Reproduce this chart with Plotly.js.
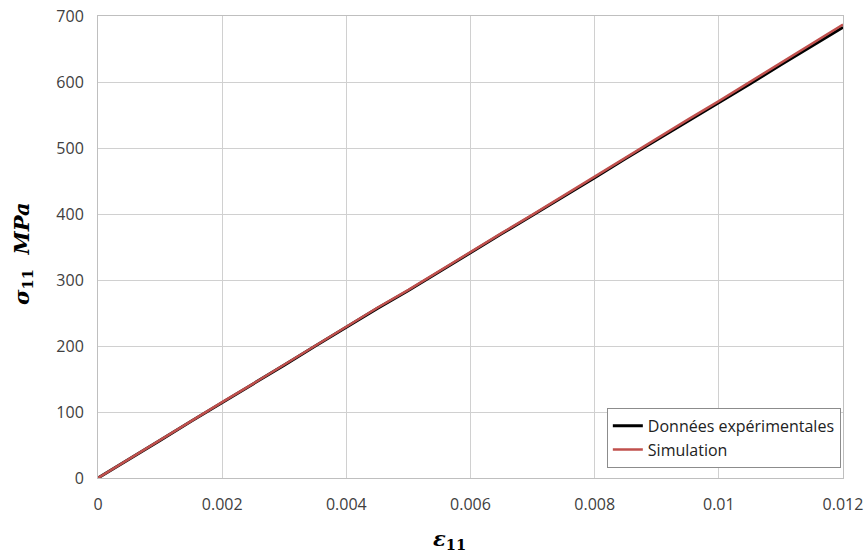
<!DOCTYPE html>
<html>
<head>
<meta charset="utf-8">
<script src="https://cdn.plot.ly/plotly-3.0.1.min.js"></script>
<style>html,body{margin:0;padding:0;background:#fff;}#chart{width:866px;height:555px;}</style>
</head>
<body>
<div id="chart"></div>
<script>
const strain = [0,0.0005,0.001,0.0015,0.002,0.0025,0.003,0.0035,0.004,0.0045,0.005,0.0055,0.006,0.0065,0.007,0.0075,0.008,0.0085,0.009,0.0095,0.01,0.0105,0.011,0.0115,0.012];
const stressExp = [0,28,57,86,114,143,171,200,229,257,284,313,342,370,398,426,455,484,512,540,569,597,626,655,683];
const stressSim = [0,29,58,86,115,143,172,201,230,258,285,314,343,371,399,428,457,486,514,543,571,600,629,658,687];
const xTicks = [0,0.002,0.004,0.006,0.008,0.01,0.012];
const xTickText = ['0','0.002','0.004','0.006','0.008','0.01','0.012'];
const yTicks = [0,100,200,300,400,500,600,700];

const traces = [
  {x: strain, y: stressExp, type:'scatter', mode:'lines', name:'Données expérimentales',
   line:{color:'#000000', width:3}},
  {x: strain, y: stressSim, type:'scatter', mode:'lines', name:'Simulation',
   line:{color:'#C0504D', width:2.5}}
];

const titleFont = {family:'DejaVu Serif, serif', size:21, color:'#000'};
const layout = {
  width:866, height:555,
  margin:{l:98, r:23, t:16, b:77},
  paper_bgcolor:'#fff', plot_bgcolor:'#fff',
  font:{family:'Open Sans, sans-serif', size:16, color:'#404040'},
  showlegend:true,
  legend:{x:0.683, y:0.152, xanchor:'left', yanchor:'top', bgcolor:'#fff',
    bordercolor:'#8c8c8c', borderwidth:1, font:{size:16, color:'#222'}, tracegroupgap:0},
  xaxis:{range:[0,0.012], tickvals:xTicks, ticktext:xTickText, showgrid:true, gridcolor:'#d0d0d0',
    gridwidth:1, zeroline:false, showline:true, linecolor:'#bfbfbf', mirror:true,
    ticks:'', ticklabelstandoff:12},
  yaxis:{range:[0,700], tickvals:yTicks, showgrid:true, gridcolor:'#d0d0d0', gridwidth:1,
    zeroline:false, showline:true, linecolor:'#bfbfbf', mirror:true, ticks:'', ticklabelstandoff:10},
  annotations:[
    {text:'<b><i>ε</i><sub>11</sub></b>', xref:'paper', yref:'paper',
     x:(449-98)/745, y:-(539-478)/462, xanchor:'center', yanchor:'middle', showarrow:false, font:titleFont},
    {text:'<b><i>σ</i><sub>11</sub>  <i>MPa</i></b>', xref:'paper', yref:'paper', textangle:-90,
     x:-(98-22)/745, y:(478-254)/462, xanchor:'center', yanchor:'middle', showarrow:false, font:titleFont}
  ]
};
Plotly.newPlot('chart', traces, layout, {displayModeBar:false, staticPlot:true});
</script>
</body>
</html>
